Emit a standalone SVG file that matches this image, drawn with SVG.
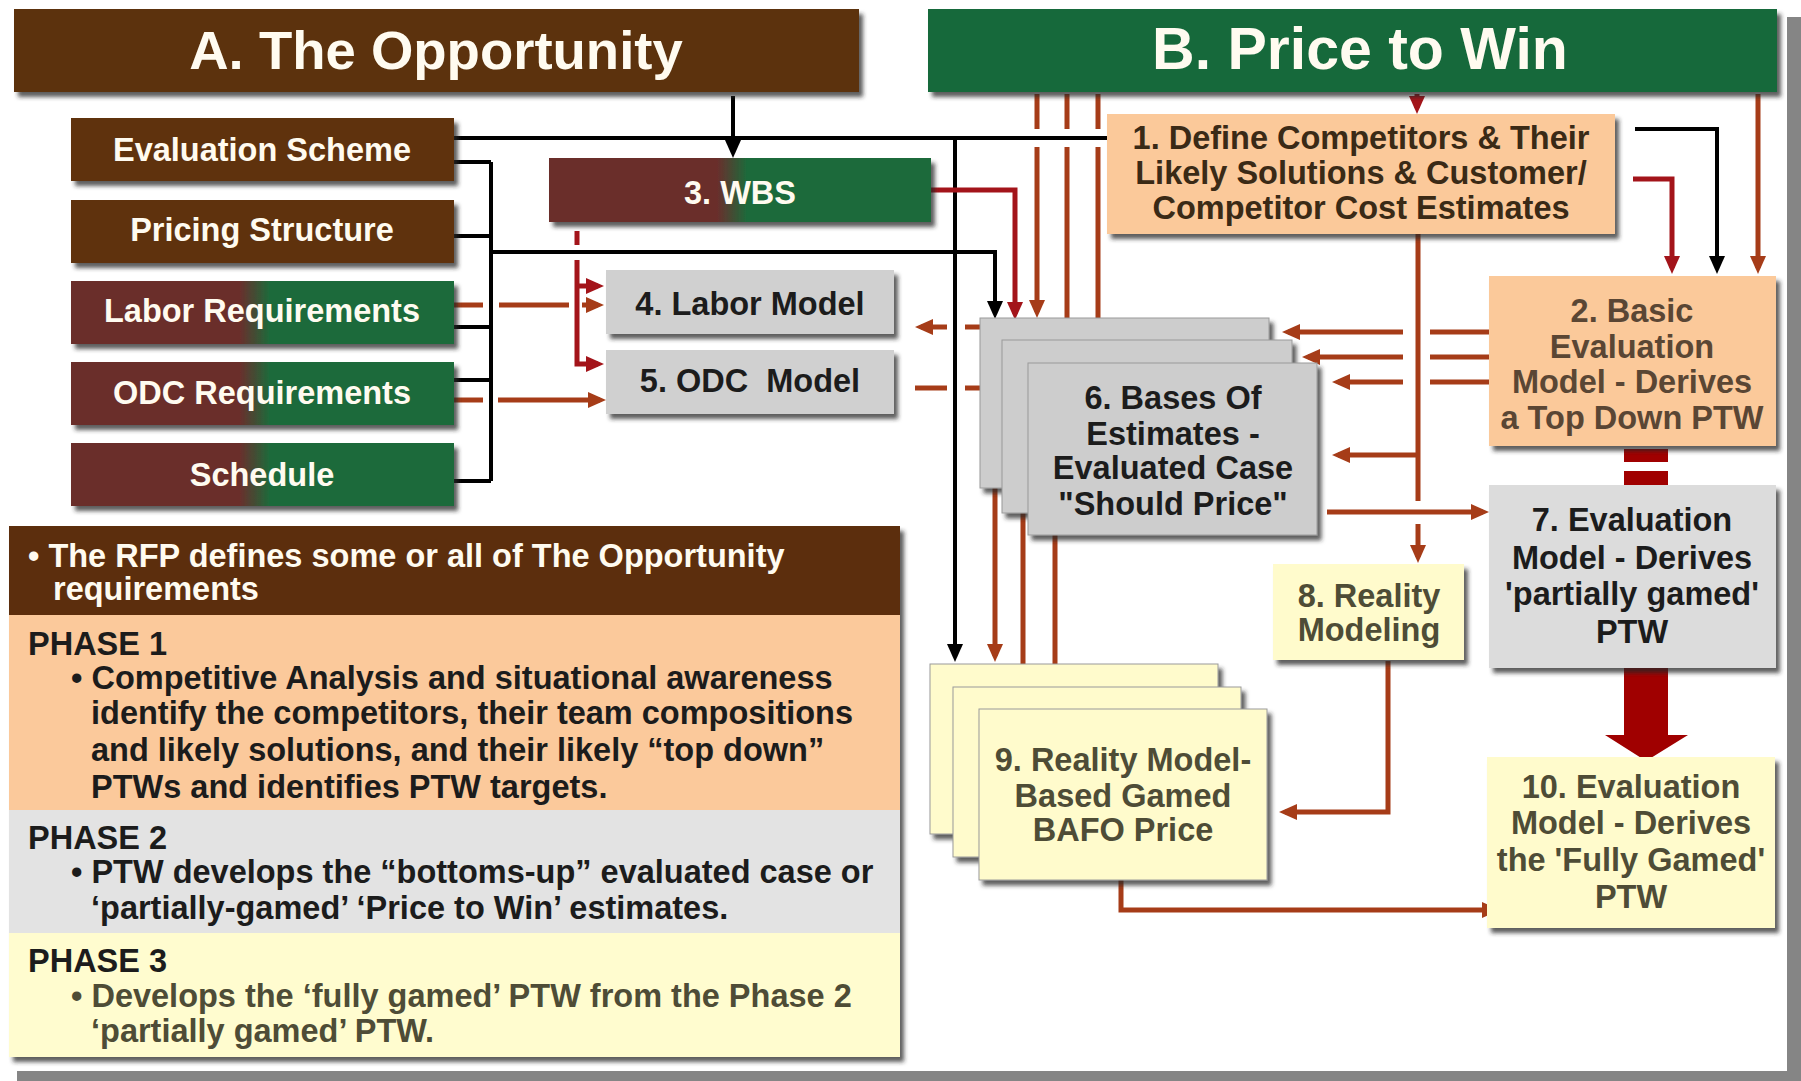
<svg xmlns="http://www.w3.org/2000/svg" width="1801" height="1081" viewBox="0 0 1801 1081">
<defs>
<style>
text{font-family:"Liberation Sans",Arial,Helvetica,sans-serif;font-weight:bold;font-size:32.5px}
.c{text-anchor:middle}
.w{fill:#FFFBF0}
.k{fill:#1c1c1c}
.b1{fill:#3a2a16}
.b2{fill:#5a4634}
.ol{fill:#4e4c36}
.blk{fill:none;stroke:#000;stroke-width:4}
.red{fill:none;stroke:#A3141A;stroke-width:5}
.brn{fill:none;stroke:#A63C18;stroke-width:5}
.ab{marker-end:url(#mb)}
.ar{marker-end:url(#mr)}
.an{marker-end:url(#mn)}
.stk{stroke:#9a9a9a;stroke-width:1}
</style>
<linearGradient id="mg" x1="0" y1="0" x2="1" y2="0">
<stop offset="0" stop-color="#6A2E2C"/>
<stop offset="0.44" stop-color="#6A2E2C"/>
<stop offset="0.52" stop-color="#1C6B3B"/>
<stop offset="1" stop-color="#1C6B3B"/>
</linearGradient>
<filter id="sh" x="-10%" y="-10%" width="125%" height="130%">
<feDropShadow dx="4" dy="5" stdDeviation="2" flood-color="#2a2a2a" flood-opacity="0.75"/>
</filter>
<marker id="mb" viewBox="0 0 18 16" refX="12" refY="8" markerWidth="18" markerHeight="16" markerUnits="userSpaceOnUse" orient="auto"><path d="M0,0 L18,8 L0,16 z" fill="#000"/></marker>
<marker id="mr" viewBox="0 0 18 16" refX="12" refY="8" markerWidth="18" markerHeight="16" markerUnits="userSpaceOnUse" orient="auto"><path d="M0,0 L18,8 L0,16 z" fill="#A3141A"/></marker>
<marker id="mn" viewBox="0 0 18 16" refX="12" refY="8" markerWidth="18" markerHeight="16" markerUnits="userSpaceOnUse" orient="auto"><path d="M0,0 L18,8 L0,16 z" fill="#A63C18"/></marker>
</defs>
<rect x="0" y="0" width="1801" height="1081" fill="#FFFFFF"/>
<!-- frame -->
<rect x="1787" y="17" width="14" height="1064" fill="#858585"/>
<rect x="17" y="1071" width="1784" height="10" fill="#858585"/>

<!-- connectors -->
<g id="connectors">
<!-- black -->
<path class="blk ab" d="M733,96 V152"/>
<path class="blk" d="M454,138 H1107"/>
<path class="blk ab" d="M955,138 V656"/>
<path class="blk ab" d="M1635,129 H1717 V268"/>
<path class="blk" d="M491,162 V481 M454,162 H491 M454,236 H491 M454,327 H491 M454,380 H491 M454,481 H491"/>
<path class="blk ab" d="M491,252 H995 V313"/>
<!-- WBS to models -->
<path class="red" d="M577,231 V245"/>
<path class="red ar" d="M577,260 V364 H598"/>
<path class="red ar" d="M577,286 H598"/>
<!-- requirements to models -->
<path class="brn" d="M454,305 H483 M499,305 H569"/>
<path class="brn an" d="M582,305 H598"/>
<path class="brn" d="M454,400 H483"/>
<path class="brn an" d="M498,400 H600"/>
<!-- models to box 6 -->
<path class="brn an" d="M947,327 H921"/>
<path class="brn an" d="M965,327 H994"/>
<path class="brn" d="M915,388 H947"/>
<path class="brn an" d="M965,388 H994"/>
<!-- WBS to box 6 -->
<path class="red ar" d="M931,190 H1015 V314"/>
<!-- Title B to box 6 -->
<path class="brn" d="M1037,94 V129 M1067,94 V129 M1098,94 V129"/>
<path class="brn an" d="M1037,147 V312"/>
<path class="brn an" d="M1067,147 V334"/>
<path class="brn an" d="M1098,147 V357"/>
<!-- Title B to box 1 and box 2 -->
<path class="red ar" d="M1417,94 V108"/>
<path class="brn an" d="M1758,94 V268"/>
<!-- box 1 to box 2 -->
<path class="red ar" d="M1633,179 H1672 V268"/>
<!-- box 2 to box 6 -->
<path class="brn" d="M1489,332 H1430 M1489,357 H1430 M1489,382 H1430"/>
<path class="brn an" d="M1403,332 H1288"/>
<path class="brn an" d="M1403,357 H1308"/>
<path class="brn an" d="M1403,382 H1338"/>
<!-- box 1 down -->
<path class="brn" d="M1418,234 V501"/>
<path class="brn an" d="M1418,524 V557"/>
<path class="brn an" d="M1418,455 H1338"/>
<!-- box 6 to box 7 -->
<path class="brn an" d="M1327,512 H1483"/>
<!-- box 6 to box 9 -->
<path class="brn an" d="M995,488 V656"/>
<path class="brn an" d="M1023,513 V680"/>
<path class="brn an" d="M1055,535 V703"/>
<!-- box 8 to box 9 -->
<path class="brn an" d="M1388,661 V812 H1285"/>
<!-- box 9 to box 10 -->
<path class="brn an" d="M1121,880 V910 H1494"/>
<!-- box 2 = box 7 -->
<rect x="1624" y="449" width="44" height="13" fill="#A00000"/>
<rect x="1624" y="471" width="44" height="14" fill="#A00000"/>
<!-- big arrow 7 to 10 -->
<path d="M1624,668 H1668 V735 H1688 L1646,761 L1605,735 H1624 Z" fill="#A00000"/>
</g>

<!-- titles -->
<g id="titleA">
<rect x="14" y="9" width="845" height="83" fill="#5C3107" filter="url(#sh)"/>
<text x="436" y="69" class="c w" style="font-size:54.5px">A. The Opportunity</text>
</g>
<g id="titleB">
<rect x="928" y="9" width="849" height="83" fill="#17693A" filter="url(#sh)"/>
<text x="1360" y="69" class="c w" style="font-size:59px">B. Price to Win</text>
</g>

<!-- left column -->
<g id="eval-scheme">
<rect x="71" y="118" width="383" height="63" fill="#5E3209" filter="url(#sh)"/>
<text x="262" y="161" class="c w">Evaluation Scheme</text>
</g>
<g id="pricing-structure">
<rect x="71" y="200" width="383" height="63" fill="#5E3209" filter="url(#sh)"/>
<text x="262" y="241" class="c w">Pricing Structure</text>
</g>
<g id="labor-req">
<rect x="71" y="281" width="383" height="63" fill="url(#mg)" filter="url(#sh)"/>
<text x="262" y="322" class="c w">Labor Requirements</text>
</g>
<g id="odc-req">
<rect x="71" y="362" width="383" height="63" fill="url(#mg)" filter="url(#sh)"/>
<text x="262" y="404" class="c w">ODC Requirements</text>
</g>
<g id="schedule">
<rect x="71" y="443" width="383" height="63" fill="url(#mg)" filter="url(#sh)"/>
<text x="262" y="486" class="c w">Schedule</text>
</g>

<!-- 3 WBS -->
<g id="wbs">
<rect x="549" y="158" width="382" height="64" fill="url(#mg)" filter="url(#sh)"/>
<text x="740" y="204" class="c w">3. WBS</text>
</g>
<g id="labor-model">
<rect x="606" y="270" width="288" height="64" fill="#D0D0D0" filter="url(#sh)"/>
<text x="750" y="315" class="c k">4. Labor Model</text>
</g>
<g id="odc-model">
<rect x="606" y="350" width="288" height="64" fill="#D0D0D0" filter="url(#sh)"/>
<text x="750" y="392" class="c k" style="white-space:pre">5. ODC  Model</text>
</g>

<!-- 1 -->
<g id="box1">
<rect x="1107" y="114" width="508" height="120" fill="#FBC99A" filter="url(#sh)"/>
<text class="c b1" x="1361" y="148.5">1. Define Competitors &amp; Their</text>
<text class="c b1" x="1361" y="184">Likely Solutions &amp; Customer/</text>
<text class="c b1" x="1361" y="219">Competitor Cost Estimates</text>
</g>
<!-- 2 -->
<g id="box2">
<rect x="1489" y="276" width="287" height="170" fill="#FBC99A" filter="url(#sh)"/>
<text class="c b2" x="1632" y="321.5">2. Basic</text>
<text class="c b2" x="1632" y="357.5">Evaluation</text>
<text class="c b2" x="1632" y="392.5">Model - Derives</text>
<text class="c b2" x="1632" y="428.5">a Top Down PTW</text>
</g>
<!-- 6 stack -->
<g id="box6">
<rect x="980" y="318" width="289" height="170" fill="#CDCDCD" class="stk" filter="url(#sh)"/>
<rect x="1002" y="340" width="290" height="173" fill="#CDCDCD" class="stk" filter="url(#sh)"/>
<rect x="1028" y="363" width="289" height="172" fill="#CDCDCD" class="stk" filter="url(#sh)"/>
<text class="c k" x="1173" y="408.5">6. Bases Of</text>
<text class="c k" x="1173" y="444.5">Estimates -</text>
<text class="c k" x="1173" y="478.5">Evaluated Case</text>
<text class="c k" x="1173" y="514.5">"Should Price"</text>
</g>
<!-- 7 -->
<g id="box7">
<rect x="1489" y="485" width="287" height="183" fill="#DCDCDC" filter="url(#sh)"/>
<text class="c k" x="1632" y="530.5">7. Evaluation</text>
<text class="c k" x="1632" y="568.5">Model - Derives</text>
<text class="c k" x="1632" y="604.5">'partially gamed'</text>
<text class="c k" x="1632" y="642.5">PTW</text>
</g>
<!-- 8 -->
<g id="box8">
<rect x="1273" y="564" width="191" height="96" fill="#FFFBCC" filter="url(#sh)"/>
<text class="c ol" x="1369" y="606.5">8. Reality</text>
<text class="c ol" x="1369" y="640.5">Modeling</text>
</g>
<!-- 9 stack -->
<g id="box9">
<rect x="930" y="664" width="288" height="170" fill="#FFFBCC" class="stk" filter="url(#sh)"/>
<rect x="953" y="687" width="288" height="170" fill="#FFFBCC" class="stk" filter="url(#sh)"/>
<rect x="979" y="709" width="288" height="171" fill="#FFFBCC" class="stk" filter="url(#sh)"/>
<text class="c ol" x="1123" y="770.5">9. Reality Model-</text>
<text class="c ol" x="1123" y="806.5">Based Gamed</text>
<text class="c ol" x="1123" y="840.5">BAFO Price</text>
</g>
<!-- 10 -->
<g id="box10">
<rect x="1487" y="757" width="288" height="171" fill="#FFFBCC" filter="url(#sh)"/>
<text class="c ol" x="1631" y="797.5">10. Evaluation</text>
<text class="c ol" x="1631" y="833.5">Model - Derives</text>
<text class="c ol" x="1631" y="870.5">the 'Fully Gamed'</text>
<text class="c ol" x="1631" y="907.5">PTW</text>
</g>

<!-- info panel -->
<g id="info">
<g filter="url(#sh)">
<rect x="9" y="526" width="891" height="89" fill="#5C2F08"/>
<rect x="9" y="615" width="891" height="195" fill="#FBC99B"/>
<rect x="9" y="810" width="891" height="123" fill="#E3E3E3"/>
<rect x="9" y="933" width="891" height="124" fill="#FFFCCF"/>
</g>
<text class="w" x="28" y="566.5">• The RFP defines some or all of The Opportunity</text>
<text class="w" x="53" y="599.5">requirements</text>
<text class="k" x="28" y="654.5">PHASE 1</text>
<text class="k" x="71" y="688.5">• Competitive Analysis and situational awareness</text>
<text class="k" x="91" y="723.5">identify the competitors, their team compositions</text>
<text class="k" x="91" y="760.5">and likely solutions, and their likely “top down”</text>
<text class="k" x="91" y="797.5">PTWs and identifies PTW targets.</text>
<text class="k" x="28" y="848.5">PHASE 2</text>
<text class="k" x="71" y="882.5">• PTW develops the “bottoms-up” evaluated case or</text>
<text class="k" x="91" y="918.5">‘partially-gamed’ ‘Price to Win’ estimates.</text>
<text class="k" x="28" y="971.5">PHASE 3</text>
<text class="ol" x="71" y="1006.5">• Develops the ‘fully gamed’ PTW from the Phase 2</text>
<text class="ol" x="91" y="1041.5">‘partially gamed’ PTW.</text>
</g>
</svg>
